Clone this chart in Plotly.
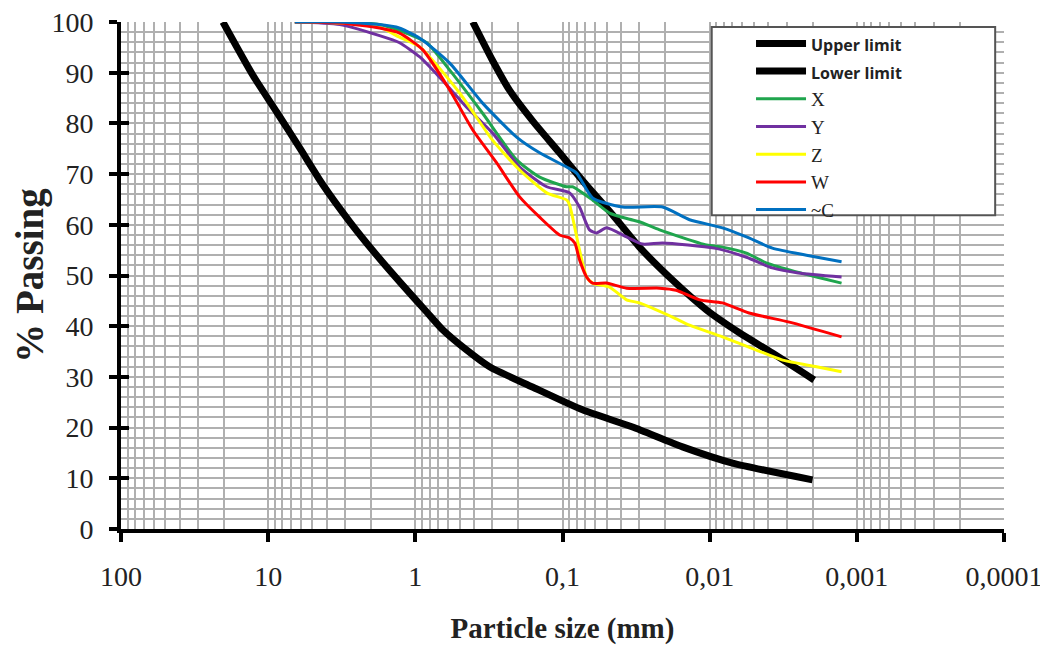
import plotly.graph_objects as go

# ---- data (particle size in mm, % passing) ----
upper_d = [0.407, 0.30, 0.2286, 0.1596, 0.1047, 0.0686, 0.0457, 0.0300, 0.0179, 0.01051, 0.00628, 0.00375, 0.00195]
upper_p = [100, 92.5, 86.5, 80.5, 74.2, 67.8, 62.0, 55.6, 49.1, 43.2, 38.7, 34.7, 29.4]

lower_d = [20.3, 12.7, 8.73, 6.09, 4.25, 2.79, 1.83, 1.22, 0.837, 0.652, 0.448, 0.313, 0.160, 0.0731, 0.0334, 0.0153, 0.0070, 0.0020]
lower_p = [100, 89.5, 82.2, 75.1, 67.9, 60.6, 54.0, 48.1, 42.8, 39.3, 35.3, 32.0, 28.0, 23.5, 20.1, 16.2, 13.0, 9.7]

x_d = [6.59, 3.26, 1.75, 1.28, 0.837, 0.584, 0.349, 0.205, 0.143, 0.0938, 0.0854, 0.0625, 0.0479, 0.035, 0.030, 0.0219, 0.0105, 0.00819, 0.00562, 0.00413, 0.00287, 0.00188, 0.00127]
x_p = [100, 100, 99.5, 98.3, 95.9, 90.5, 82, 72.8, 69.4, 67.5, 67.5, 64.9, 62.3, 61.1, 60.6, 59, 56, 55.6, 54.4, 52.5, 51.1, 49.7, 48.5]

y_d = [6.59, 3.26, 1.75, 1.28, 0.933, 0.66, 0.448, 0.299, 0.1955, 0.128, 0.0895, 0.0766, 0.0655, 0.0587, 0.0502, 0.0367, 0.0286, 0.0209, 0.0093, 0.00562, 0.00375, 0.0025, 0.00127]
y_p = [100, 99.5, 97.3, 95.9, 93.1, 88.6, 83.2, 78.1, 71.4, 67.5, 66.3, 63.5, 59, 58.4, 59.4, 57.6, 56.2, 56.4, 55.4, 53.6, 51.5, 50.5, 49.7]

z_d = [6.59, 3.26, 1.75, 1.28, 0.933, 0.5, 0.299, 0.1955, 0.128, 0.0938, 0.0895, 0.0766, 0.0686, 0.0625, 0.0479, 0.0367, 0.030, 0.0179, 0.0137, 0.00819, 0.00481, 0.00319, 0.00188, 0.00127]
z_p = [100, 99.8, 99, 97, 95.1, 86, 76.7, 70.8, 66.3, 64.9, 63.9, 55, 49.7, 48.5, 47.7, 45.2, 44.6, 41.8, 40.2, 37.9, 35.3, 33.3, 32, 31]

w_d = [6.59, 3.26, 1.75, 1.28, 0.89, 0.584, 0.407, 0.280, 0.1955, 0.143, 0.1047, 0.0895, 0.0825, 0.0766, 0.0686, 0.0625, 0.0502, 0.0367, 0.0219, 0.0169, 0.0117, 0.00819, 0.0054, 0.00287, 0.00127]
w_p = [100, 99.8, 98.8, 97.8, 94.5, 86.6, 78.7, 72.2, 65.5, 61.5, 58, 57.4, 56.4, 53.1, 49.7, 48.5, 48.5, 47.5, 47.5, 47.1, 45.2, 44.6, 42.6, 40.8, 37.9]

c_d = [6.59, 3.26, 1.35, 0.933, 0.584, 0.349, 0.205, 0.143, 0.0938, 0.0802, 0.0625, 0.0391, 0.0209, 0.0137, 0.00819, 0.00562, 0.00375, 0.0022, 0.00127]
c_p = [100, 100, 99, 96.8, 91.9, 84, 77.3, 74.2, 71.4, 70.2, 65.3, 63.5, 63.5, 61, 59.4, 57.6, 55.4, 54, 52.7]

x_tickvals = [100, 10, 1, 0.1, 0.01, 0.001, 0.0001]
x_ticktext = ["100", "10", "1", "0,1", "0,01", "0,001", "0,0001"]
y_tickvals = [0, 10, 20, 30, 40, 50, 60, 70, 80, 90, 100]

minor_x = [k * 10.0 ** e for e in range(-4, 2) for k in range(2, 10)]

SANS = "<span style='font-family:\"Open Sans\"; font-size:16px; font-weight:bold'>%s</span>"

# name, sizes, values, colour, width, sans-label, y-axis
series = [
    ("Upper limit", upper_d, upper_p, "black", 7, True, "y"),
    ("Lower limit", lower_d, lower_p, "black", 7, True, "y2"),
    ("X", x_d, x_p, "#1FA54D", 3, False, "y"),
    ("Y", y_d, y_p, "#7030A0", 3, False, "y"),
    ("Z", z_d, z_p, "#FFFF00", 3, False, "y"),
    ("W", w_d, w_p, "#FF0000", 3, False, "y"),
    ("~C", c_d, c_p, "#0070C0", 3, False, "y"),
]

fig = go.Figure()
for name, d, p, col, wid, sans, yax in series:
    fig.add_trace(go.Scatter(
        x=d, y=p, mode="lines", name=(SANS % name) if sans else name, yaxis=yax,
        line=dict(color=col, width=wid, shape="spline", smoothing=0.6),
    ))

GRID = "#b0b0b0"
# the page body adds an 8 px margin, so the figure is 8 px smaller and margins shifted
fig.update_layout(
    width=1040, height=640,
    margin=dict(l=113, r=44, t=14, b=119, autoexpand=False),
    paper_bgcolor="white", plot_bgcolor="white",
    font=dict(family="Liberation Serif", color="black"),
    xaxis=dict(
        type="log", range=[2, -4], automargin=False,
        tickmode="array", tickvals=x_tickvals, ticktext=x_ticktext,
        ticks="outside", ticklen=9, tickwidth=4, tickcolor="black",
        tickfont=dict(family="Liberation Serif", size=28, color="#222"),
        ticklabelstandoff=10, ticklabeloverflow="allow",
        showline=True, linecolor="black", linewidth=4,
        showgrid=True, gridcolor=GRID, gridwidth=1.5,
        minor=dict(tickmode="array", tickvals=minor_x, ticks="", showgrid=True, gridcolor=GRID, gridwidth=1.5),
        zeroline=False,
        title=dict(text="<b>Particle size (mm)</b>", font=dict(family="Liberation Serif", size=29, color="#222"), standoff=28),
    ),
    yaxis=dict(
        range=[0, 100], tickmode="array", tickvals=y_tickvals, automargin=False,
        ticks="outside", ticklen=8, tickwidth=4, tickcolor="black",
        tickfont=dict(family="Liberation Serif", size=28, color="#222"),
        ticklabelstandoff=10, ticklabeloverflow="allow",
        showline=True, linecolor="black", linewidth=4,
        showgrid=True, gridcolor=GRID, gridwidth=1.5,
        minor=dict(dtick=2, ticks="", showgrid=True, gridcolor=GRID, gridwidth=1.5),
        zeroline=False,
        title=dict(text="<b>% Passing</b>", font=dict(family="Liberation Serif", size=39, color="#222"), standoff=0),
    ),
    yaxis2=dict(
        overlaying="y", side="left", anchor="x", range=[0, 100], automargin=False,
        tickmode="array", tickvals=y_tickvals, ticks="inside", ticklen=8, tickwidth=4, tickcolor="black",
        showticklabels=False, showgrid=False, zeroline=False, showline=False,
    ),
    legend=dict(
        x=0.7135, y=0.995, xanchor="left", yanchor="top",
        bgcolor="rgba(0,0,0,0)", borderwidth=0,
        font=dict(family="Liberation Serif", size=19, color="#222"),
        itemwidth=50, tracegroupgap=0,
    ),
    shapes=[dict(
        type="rect", xref="paper", yref="paper",
        x0=0.669, x1=0.990, y0=0.619, y1=0.990,
        fillcolor="white", line=dict(color="#555", width=2), layer="above",
    )],
    showlegend=True,
)

fig.write_html("out.html")
